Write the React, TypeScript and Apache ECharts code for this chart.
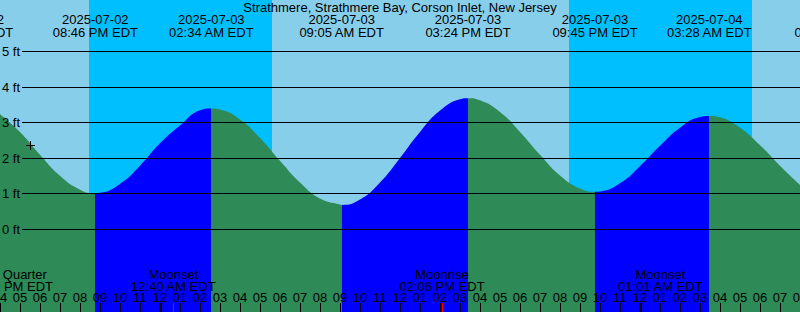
import React, { useEffect, useRef } from "react";
import * as echarts from "echarts";

const TITLE = "Strathmere, Strathmere Bay, Corson Inlet, New Jersey";

// x axis: hours after 2025-07-02 04:00 PM EDT
const hourLabels = [
  "04", "05", "06", "07", "08", "09", "10", "11", "12", "01", "02", "03",
  "04", "05", "06", "07", "08", "09", "10", "11", "12", "01", "02", "03",
  "04", "05", "06", "07", "08", "09", "10", "11", "12", "01", "02", "03",
  "04", "05", "06", "07", "08",
];

// tide curve (hours, feet)
const tideHours = [
  0, 1, 2, 3, 4, 4.767, 5, 6, 7, 8, 9, 10, 10.567, 11, 12, 13, 14, 15, 16, 17,
  17.083, 18, 19, 20, 21, 22, 23, 23.4, 24, 25, 26, 27, 28, 29, 29.75, 30, 31,
  32, 33, 34, 35, 35.467, 36, 37, 38, 39, 40,
];
const tideFeet = [
  3.24, 2.74, 2.1, 1.51, 1.12, 1.02, 1.03, 1.28, 1.79, 2.42, 2.92, 3.35, 3.4,
  3.37, 3.09, 2.57, 1.93, 1.32, 0.87, 0.7, 0.69, 0.84, 1.32, 2.01, 2.74, 3.34,
  3.66, 3.69, 3.63, 3.3, 2.74, 2.1, 1.52, 1.15, 1.06, 1.07, 1.3, 1.78, 2.35,
  2.86, 3.16, 3.19, 3.15, 2.86, 2.37, 1.79, 1.25,
];

// tide events
const tideEventHours = [-1.467, 4.767, 10.567, 17.083, 23.4, 29.75, 35.467, 41.833];
const tideEventTypes = ["High", "Low", "High", "Low", "High", "Low", "High", "Low"];
const tideEventDates = [
  "2025-07-02", "2025-07-02", "2025-07-03", "2025-07-03",
  "2025-07-03", "2025-07-03", "2025-07-04", "2025-07-04",
];
const tideEventTimes = [
  "02:32 PM EDT", "08:46 PM EDT", "02:34 AM EDT", "09:05 AM EDT",
  "03:24 PM EDT", "09:45 PM EDT", "03:28 AM EDT", "09:50 AM EDT",
];

// night (sunset -> sunrise)
const nightStart = [4.45, 28.45];
const nightEnd = [13.6, 37.6];

// moon events
const moonEventHours = [-0.5, 8.667, 22.1, 33.017];
const moonEventNames = ["First Quarter", "Moonset", "Moonrise", "Moonset"];
const moonEventTimes = ["03:30 PM EDT", "12:40 AM EDT", "02:06 PM EDT", "01:01 AM EDT"];

const midnightHours = [8, 32];

const levels = [0, 1, 2, 3, 4, 5];
const levelLabels = ["0 ft", "1 ft", "2 ft", "3 ft", "4 ft", "5 ft"];

const nowHour = 1.5;
const nowFeet = 2.37;

const DAY = "#87CEEB";
const NIGHT = "#00BFFF";
const FLOOD = "#0000FF";
const EBB = "#2E8B57";
const FONT_FAMILY = '"Liberation Sans", Arial, sans-serif';
const FONT_SIZE = 13;

function buildOption() {
  const pieces: any[] = [];
  tideEventHours.forEach((h, i) => {
    const p: any = { lt: h, color: tideEventTypes[i] === "Low" ? EBB : FLOOD };
    if (i > 0) p.gte = tideEventHours[i - 1];
    pieces.push(p);
  });
  const lastIdx = tideEventHours.length - 1;
  pieces.push({
    gte: tideEventHours[lastIdx],
    color: tideEventTypes[lastIdx] === "Low" ? FLOOD : EBB,
  });

  const txt = (text: string, x: number, y: number, align = "center") => ({
    type: "text",
    x,
    y,
    silent: true,
    style: {
      text,
      fill: "#000",
      fontSize: FONT_SIZE,
      fontFamily: FONT_FAMILY,
      align,
      verticalAlign: "middle",
    },
  });

  return {
    animation: false,
    backgroundColor: DAY,
    grid: { left: 0, right: 0, top: 0, bottom: 0, containLabel: false, outerBoundsMode: "none" },
    xAxis: {
      type: "value",
      min: 0,
      max: 40,
      interval: 1,
      show: false,
      axisLine: { show: false, onZero: false },
      splitLine: { show: false },
    },
    yAxis: {
      type: "value",
      min: -2.3174,
      max: 6.4466,
      show: false,
      splitLine: { show: false },
    },
    visualMap: {
      type: "piecewise",
      show: false,
      dimension: 0,
      seriesIndex: 1,
      pieces,
    },
    graphic: [
      {
        type: "text",
        x: 400,
        y: 7,
        silent: true,
        style: {
          text: TITLE,
          fill: "#000",
          fontSize: FONT_SIZE,
          fontFamily: FONT_FAMILY,
          align: "center",
          verticalAlign: "middle",
        },
        z: 100,
      },
    ],
    series: [
      {
        type: "custom",
        silent: true,
        z: 1,
        data: nightStart.map((s, i) => [s, nightEnd[i], 0]),
        encode: { x: [0, 1], y: 2 },
        renderItem: (params: any, api: any) => {
          const i = params.dataIndex;
          const x1 = api.coord([nightStart[i], 0])[0];
          const x2 = api.coord([nightEnd[i], 0])[0];
          const cs = params.coordSys;
          return {
            type: "rect",
            shape: { x: Math.round(x1), y: cs.y, width: Math.round(x2) - Math.round(x1), height: cs.height },
            style: { fill: NIGHT },
          };
        },
      },
      {
        type: "line",
        silent: true,
        z: 2,
        smooth: true,
        showSymbol: false,
        symbol: "none",
        data: tideHours.map((h, i) => [h, tideFeet[i]]),
        lineStyle: { width: 0 },
        areaStyle: { opacity: 1, origin: "start" },
      },
      {
        type: "custom",
        silent: true,
        z: 3,
        data: levels.map((v) => [0, v]),
        encode: { x: 0, y: 1 },
        renderItem: (params: any, api: any) => {
          const i = params.dataIndex;
          const y = Math.floor(api.coord([0, levels[i]])[1]);
          const cs = params.coordSys;
          return {
            type: "group",
            children: [
              {
                type: "rect",
                shape: { x: cs.x + 22, y, width: cs.width - 22, height: 1 },
                style: { fill: "#000" },
              },
              txt(levelLabels[i], cs.x + 2, y + 0.5, "left"),
            ],
          };
        },
      },
      {
        // hour ticks
        type: "custom",
        silent: true,
        z: 9,
        data: hourLabels.map((_, i) => [i, 0]),
        encode: { x: 0, y: 1 },
        renderItem: (params: any, api: any) => {
          const cs = params.coordSys;
          const x = api.coord([params.dataIndex, 0])[0];
          return {
            type: "rect",
            shape: { x: Math.round(x), y: cs.y + cs.height - 9, width: 1, height: 9 },
            style: { fill: "#000000" },
          };
        },
      },
      {
        // hour labels
        type: "custom",
        silent: true,
        z: 6,
        data: hourLabels.map((_, i) => [i, 0]),
        encode: { x: 0, y: 1 },
        renderItem: (params: any, api: any) => {
          const x = api.coord([params.dataIndex, 0])[0];
          return txt(hourLabels[params.dataIndex], x, 297);
        },
      },
      {
        type: "custom",
        silent: true,
        z: 4,
        data: tideEventHours.map((h) => [h, 0]),
        encode: { x: 0, y: 1 },
        renderItem: (params: any, api: any) => {
          const i = params.dataIndex;
          const x = api.coord([tideEventHours[i], 0])[0];
          return {
            type: "group",
            children: [
              txt(tideEventDates[i], x, 19.5),
              txt(tideEventTimes[i], x, 32),
            ],
          };
        },
      },
      {
        type: "custom",
        silent: true,
        z: 7,
        data: moonEventHours.map((h) => [h, 0]),
        encode: { x: 0, y: 1 },
        renderItem: (params: any, api: any) => {
          const i = params.dataIndex;
          const cs = params.coordSys;
          const x = api.coord([moonEventHours[i], 0])[0];
          const cx = Math.max(x, cs.x + 10.4);
          const children: any[] = [
            txt(moonEventNames[i], cx, 274.5),
            txt(moonEventTimes[i], cx, 286),
          ];
          if (x >= cs.x && x <= cs.x + cs.width) {
            children.push({
              type: "rect",
              shape: { x: Math.floor(x), y: cs.y + cs.height - 9, width: 1, height: 9 },
              style: { fill: "#FF0000" },
            });
          }
          return { type: "group", children };
        },
      },
      {
        type: "custom",
        silent: true,
        z: 10,
        data: midnightHours.map((h) => [h, 0]),
        encode: { x: 0, y: 1 },
        renderItem: (params: any, api: any) => {
          const i = params.dataIndex;
          const cs = params.coordSys;
          const x = Math.round(api.coord([midnightHours[i], 0])[0]);
          return {
            type: "rect",
            shape: { x: x - 1, y: cs.y + cs.height - 9, width: 3, height: 9 },
            style: { fill: "#000" },
          };
        },
      },
      {
        type: "custom",
        silent: true,
        z: 5,
        data: [[nowHour, nowFeet]],
        encode: { x: 0, y: 1 },
        renderItem: (params: any, api: any) => {
          const p = api.coord([nowHour, nowFeet]);
          const cx = Math.round(p[0]);
          const cy = Math.round(p[1]);
          return {
            type: "group",
            children: [
              { type: "rect", shape: { x: cx - 4, y: cy, width: 9, height: 1 }, style: { fill: "#000" } },
              { type: "rect", shape: { x: cx, y: cy - 4, width: 1, height: 9 }, style: { fill: "#000" } },
            ],
          };
        },
      },
    ],
  };
}

export default function App() {
  const ref = useRef<HTMLDivElement>(null);
  useEffect(() => {
    document.body.style.margin = "0";
    const chart = echarts.init(ref.current as HTMLDivElement, null, { renderer: "svg" });
    chart.setOption(buildOption() as any);
    return () => chart.dispose();
  }, []);
  return <div ref={ref} style={{ width: 800, height: 312 }} />;
}
